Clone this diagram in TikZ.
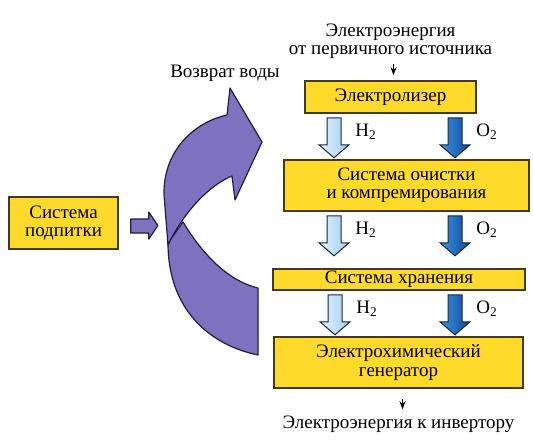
\documentclass[tikz,border=0pt]{standalone}
\usepackage{fontspec}
\setmainfont{Liberation Serif}
\usetikzlibrary{arrows.meta,calc,positioning}

\def\px{0.5pt}   % one pixel of the layout grid

\definecolor{boxyellow}{RGB}{254,218,42}
\definecolor{boxedge}{RGB}{70,58,22}
\definecolor{loopviolet}{RGB}{126,114,192}
\definecolor{loopedge}{RGB}{32,28,66}
\definecolor{hlight}{RGB}{228,244,253}
\definecolor{hdeep}{RGB}{160,206,238}
\definecolor{olight}{RGB}{60,150,222}
\definecolor{odeep}{RGB}{14,72,156}
\definecolor{gasedge}{RGB}{25,35,62}

\tikzset{
  unitbox/.style={draw=boxedge, fill=boxyellow, line width=0.8pt,
    align=center, inner sep=0pt, font=\fontsize{9.5}{9.2}\selectfont},
  flowtext/.style={align=center, inner sep=1pt, font=\fontsize{9.5}{9}\selectfont},
  gaslabel/.style={anchor=base west, inner sep=0pt, font=\fontsize{9.5}{9.2}\selectfont},
  hflow/.style={draw=gasedge, line width=0.5pt, left color=hlight, right color=hdeep},
  oflow/.style={draw=gasedge, line width=0.5pt, left color=olight, right color=odeep},
  loopband/.style={draw=loopedge, fill=loopviolet, line width=0.6pt, line join=round},
  thinarrow/.style={-{Stealth[length=4pt,width=3pt]}, line width=0.5pt},
}

% fat gas arrow below a box: style, x, upper box, label
\newcommand\gasflow[4]{%
  \path (#2,0) coordinate (gx);
  \coordinate (gt) at ($(#3.south -| gx)+(0,4)$);
  \path[#1] ($(gt)+(-7,0)$) -- ($(gt)+(7,0)$) -- ($(gt)+(7,27)$) -- ($(gt)+(15,27)$)
    -- ($(gt)+(0,40)$) -- ($(gt)+(-15,27)$) -- ($(gt)+(-7,27)$) -- cycle;
  \node[gaslabel] at ($(gt)+(21,19)$) {#4};
}

\begin{document}
\begin{tikzpicture}[x=\px, y=-\px]
\useasboundingbox (0,0) rectangle (533,439);

%% ── Main chain ───────────────────────────────────────────────────────────
\node[unitbox, minimum width=171*\px, minimum height=32*\px] (elz)   at (390.5,97)  {Электролизер};
\node[unitbox, minimum width=245*\px, minimum height=51*\px] (clean) at (406.5,185.5) {Система очистки\\и компремирования};
\node[unitbox, minimum width=252*\px, minimum height=21*\px] (store) at (399,279.5) {Система хранения};
\node[unitbox, minimum width=249*\px, minimum height=51*\px] (gen)   at (398.5,362.5) {Электрохимический\\генератор};

%% ── Make-up unit ─────────────────────────────────────────────────────────
\node[unitbox, minimum width=109*\px, minimum height=52*\px] (feed) at (63.5,223) {Система\\подпитки};

%% ── Power in / out ───────────────────────────────────────────────────────
\node[flowtext] (src) at (390.5,41) {Электроэнергия\\от первичного источника};
\node[flowtext] (inv) at (398.5,424) {Электроэнергия к инвертору};
\draw[thinarrow, shorten <=1.5pt, shorten >=2.5pt] ([xshift=1.5pt]src.south) -- ([xshift=1.5pt]src.south |- elz.north);
\draw[thinarrow, shorten <=5pt, shorten >=2pt] ([xshift=2pt]gen.south) -- ([xshift=2pt]gen.south |- inv.north);

%% ── Gas flows ────────────────────────────────────────────────────────────
\gasflow{hflow}{334}{elz}{H\textsubscript{2}}
\gasflow{oflow}{455}{elz}{O\textsubscript{2}}
\gasflow{hflow}{334}{clean}{H\textsubscript{2}}
\gasflow{oflow}{455}{clean}{O\textsubscript{2}}
\gasflow{hflow}{335}{store}{H\textsubscript{2}}
\gasflow{oflow}{455}{store}{O\textsubscript{2}}

%% ── Water return loop ────────────────────────────────────────────────────
\node[flowtext] (back) at (225,73) {Возврат воды};

% lower band (behind)
\path[loopband] (183,222) .. controls (200,250) and (225,280) .. (258,288)
  -- (258,355) .. controls (210,345) and (168,310) .. (168,243) -- cycle;
% upper band with head
\path[loopband] (168,245) -- (164,195) .. controls (163,150) and (195,122) .. (227,115)
  -- (230,88) -- (262,142) -- (235,200) -- (232,176)
  .. controls (210,185) and (185,210) .. (168,245) -- cycle;

% feed into the loop
\path[loopband] ($(feed.east)+(12,-4)$) -- ++(18,0) -- ++(0,-7) -- ++(9,13.5)
  -- ++(-9,13.5) -- ++(0,-6) -- ++(-18,0) -- cycle;

\end{tikzpicture}
\end{document}
